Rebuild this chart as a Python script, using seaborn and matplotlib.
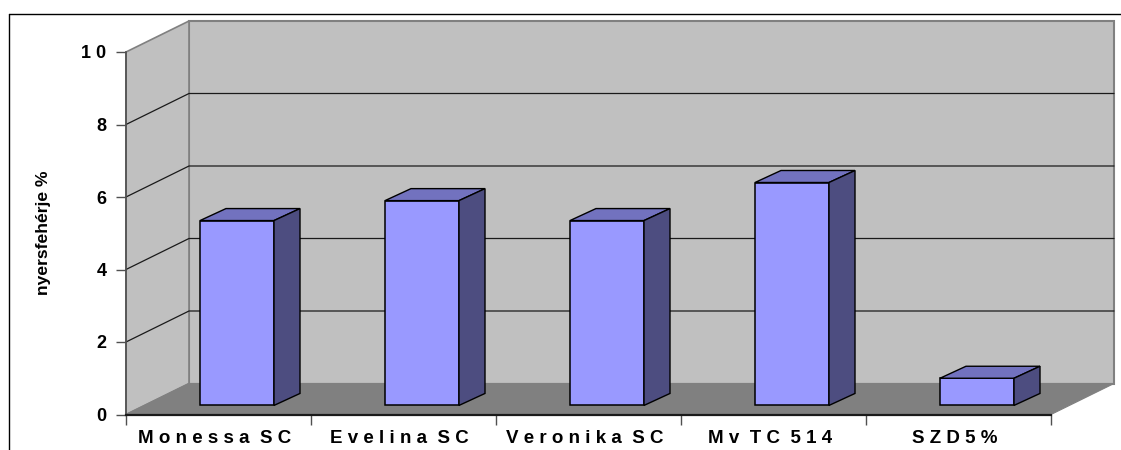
import matplotlib
matplotlib.use("Agg")
import matplotlib.pyplot as plt
from matplotlib.patches import Polygon, Rectangle
import seaborn as sns

# dati
categories = ["M o n e s s a  S C", "E v e l i n a  S C", "V e r o n i k a  S C",
              "M v  T C  5 1 4", "S Z D 5 %"]
values = [5.1, 5.65, 5.1, 6.15, 0.75]
ytick_vals = [0, 2, 4, 6, 8, 10]
ytick_labels = ["0", "2", "4", "6", "8", "1 0"]
ylabel = "nyersfehérje %"

sns.set_theme(style="white")
plt.rcParams["font.family"] = ["Liberation Sans", "DejaVu Sans"]
plt.rcParams["font.weight"] = "bold"

fig = plt.figure(figsize=(11.21, 4.5), dpi=100)
ax = fig.add_axes([126 / 1121, (450 - 414.5) / 450, 925 / 1121, 362.5 / 450])

# barre frontali, sollevate dal bordo del pavimento
sns.barplot(x=categories, y=values, color="#9999FF", saturation=1, width=0.4,
            bottom=0.25, edgecolor="black", linewidth=1.1, ax=ax)
x0 = -0.6
ax.set_xlim(x0, x0 + 5)
ax.set_ylim(0, 10)

# profondita' in unita' dati
wall_dx = 63 / 185
wall_dy = 31 / 36.25
bar_dx = 26 / 185
bar_dy = 12 / 36.25

# pareti e pavimento
x1 = x0 + 5
ax.add_patch(Polygon([(x0 + wall_dx, wall_dy), (x1 + wall_dx, wall_dy),
                      (x1 + wall_dx, 10 + wall_dy), (x0 + wall_dx, 10 + wall_dy)],
                     closed=True, fc="#C0C0C0", ec="#808080", lw=1.5, clip_on=False, zorder=0.2))
ax.add_patch(Polygon([(x0, 0), (x0 + wall_dx, wall_dy), (x0 + wall_dx, 10 + wall_dy), (x0, 10)],
                     closed=True, fc="#C0C0C0", ec="#808080", lw=1.2, clip_on=False, zorder=0.3))
ax.add_patch(Polygon([(x0, 0), (x1, 0), (x1 + wall_dx, wall_dy), (x0 + wall_dx, wall_dy)],
                     closed=True, fc="#808080", ec="#808080", lw=0.8, clip_on=False, zorder=0.3))

# griglia su parete laterale e di fondo
for v in ytick_vals[1:-1]:
    ax.plot([x0, x0 + wall_dx, x1 + wall_dx], [v, v + wall_dy, v + wall_dy],
            color="#1a1a1a", lw=0.9, clip_on=False, zorder=0.5)

# facce superiori e laterali delle barre
for bar in ax.patches[:]:
    if not isinstance(bar, Rectangle):
        continue
    left = bar.get_x()
    right = left + bar.get_width()
    low = bar.get_y()
    top = low + bar.get_height()
    ax.add_patch(Polygon([(left, top), (right, top), (right + bar_dx, top + bar_dy), (left + bar_dx, top + bar_dy)],
                         closed=True, fc="#7272BF", ec="black", lw=1.0, clip_on=False, zorder=1.5))
    ax.add_patch(Polygon([(right, low), (right + bar_dx, low + bar_dy), (right + bar_dx, top + bar_dy), (right, top)],
                         closed=True, fc="#4D4D80", ec="black", lw=1.0, clip_on=False, zorder=1.5))

# assi
sns.despine(ax=ax, top=True, right=True)
ax.spines["left"].set_color("#505050")
ax.spines["left"].set_linewidth(1.2)
ax.spines["bottom"].set_color("#1a1a1a")
ax.spines["bottom"].set_linewidth(1.6)
ax.set_yticks(ytick_vals, ytick_labels, fontsize=13, fontweight="bold", color="black")
ax.tick_params(axis="y", left=True, length=7.2, width=1.0, color="#505050", pad=7)
ax.set_xticks([x0 + 0.48 + i for i in range(5)], categories, fontsize=13.5, fontweight="bold", color="black")
ax.set_xticks([x0 + i for i in range(6)], minor=True)
ax.tick_params(axis="x", which="major", bottom=False, pad=5)
ax.tick_params(axis="x", which="minor", bottom=True, length=7, width=1.0, color="#505050")
ax.set_xlabel("")
ax.set_ylabel(ylabel, fontsize=12.6, fontweight="bold", color="black")
ax.yaxis.set_label_coords((51 - 126) / 925, (414.5 - 233) / 362.5)

# cornice del grafico, aperta a destra e in basso
fig.add_artist(plt.Line2D([8.5 / 1121, 8.5 / 1121], [0, 1 - 13.5 / 450], color="black", lw=1.0))
fig.add_artist(plt.Line2D([8.5 / 1121, 1], [1 - 13.5 / 450, 1 - 13.5 / 450], color="black", lw=1.0))

fig.savefig("out.png", dpi=100)
